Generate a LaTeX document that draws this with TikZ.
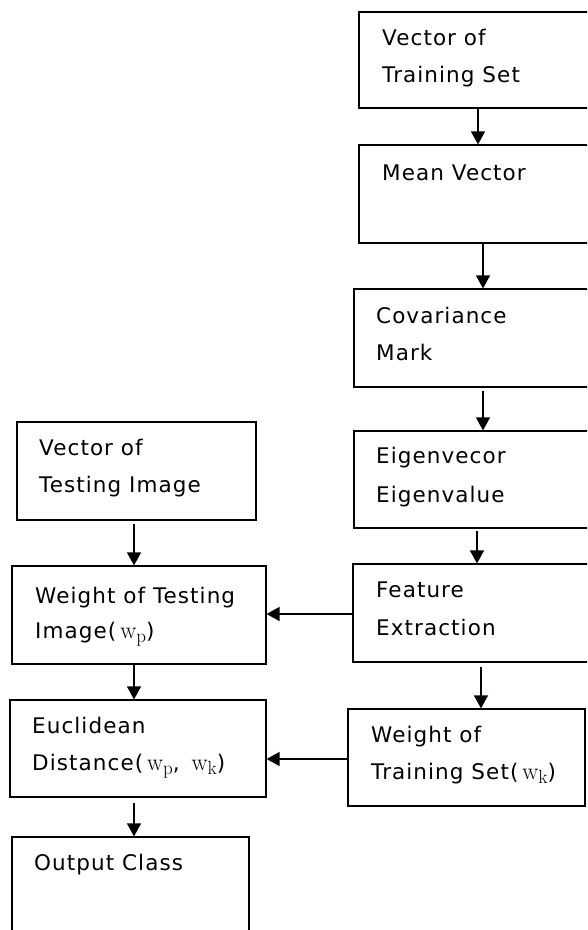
\documentclass[tikz,border=0pt]{standalone}
\usepackage{fontspec}
\setmainfont[LetterSpace=5]{DejaVu Sans}
\newfontfamily\lmrfont{Latin Modern Roman}
\usetikzlibrary{arrows.meta}
\newcommand{\wsub}[1]{{\fontsize{24}{24}\selectfont\lmrfont \,w\raisebox{-0.18em}{\fontsize{19}{19}\selectfont\lmrfont #1}}}
\begin{document}
\begin{tikzpicture}[x=1pt,y=-1pt,
  box/.style={draw=black,line width=1.2pt,rectangle,inner sep=0pt},
  lbl/.style={anchor=base west,inner sep=0pt,font=\fontsize{21.5}{21.5}\selectfont},
  arr/.style={line width=1.3pt,-{Triangle[length=13pt,width=14pt]}}]
\useasboundingbox (0,0) rectangle (587,930);
\clip (0,0) rectangle (587,930);
% right column
\node[box,minimum width=236pt,minimum height=96pt] (b1) at (477,60) {};
\node[box,minimum width=236pt,minimum height=98pt] (b2) at (477,194) {};
\node[box,minimum width=241pt,minimum height=98pt] (b3) at (474.5,338) {};
\node[box,minimum width=241pt,minimum height=97pt] (b4) at (474.5,479.5) {};
\node[box,minimum width=242pt,minimum height=98pt] (b5) at (474,613) {};
\node[box,minimum width=237pt,minimum height=97pt] (b6) at (466.5,757.5) {};
% left column
\node[box,minimum width=239pt,minimum height=98pt] (t1) at (136.5,471) {};
\node[box,minimum width=254pt,minimum height=98pt] (t2) at (139,615) {};
\node[box,minimum width=256pt,minimum height=97pt] (t3) at (138,748.5) {};
\node[box,minimum width=237pt,minimum height=103pt] (t4) at (130.5,888.5) {};
% texts
\node[lbl] (l1a) at (382,45) {Vector of};
\node[lbl] (l1b) at (382,82) {Training Set};
\node[lbl] (l2a) at (382,180) {Mean Vector};
\node[lbl] (l3a) at (376,323) {Covariance};
\node[lbl] (l3b) at (376,360) {Mark};
\node[lbl] (l4a) at (376,463) {Eigenvecor};
\node[lbl] (l4b) at (376,502) {Eigenvalue};
\node[lbl] (l5a) at (376,597) {Feature};
\node[lbl] (l5b) at (376,635) {Extraction};
\node[lbl] (l6a) at (371,742) {Weight of};
\node[lbl] (l6b) at (371,779) {Training Set(\wsub{k})};
\node[lbl] (m1a) at (39,455) {Vector of};
\node[lbl] (m1b) at (39,492) {Testing Image};
\node[lbl] (m2a) at (35,603) {Weight of Testing};
\node[lbl] (m2b) at (35,638) {Image(\wsub{p})};
\node[lbl] (m3a) at (32,733) {Euclidean};
\node[lbl] (m3b) at (32,770) {Distance(\wsub{p}, \wsub{k})};
\node[lbl] (m4a) at (34,870) {Output Class};
% connectors
\draw[arr] (b1.south -| 478,0) -- (b2.north -| 478,0);
\draw[arr] (b2.south -| 483,0) -- (b3.north -| 483,0);
\draw[arr] ([yshift=-3pt]b3.south -| 483,0) -- (b4.north -| 483,0);
\draw[arr] ([yshift=-2pt]b4.south -| 477,0) -- (b5.north -| 477,0);
\draw[arr] ([yshift=-4pt]b5.south -| 481,0) -- (b6.north -| 481,0);
\draw[arr] ([yshift=-3pt]t1.south -| 134,0) -- (t2.north -| 134,0);
\draw[arr] (t2.south -| 134,0) -- (t3.north -| 134,0);
\draw[arr] ([yshift=-5pt]t3.south -| 134,0) -- (t4.north -| 134,0);
\draw[arr] (b5.west |- 0,614) -- (t2.east |- 0,614);
\draw[arr] (b6.west |- 0,759) -- (t3.east |- 0,759);
\end{tikzpicture}
\end{document}
